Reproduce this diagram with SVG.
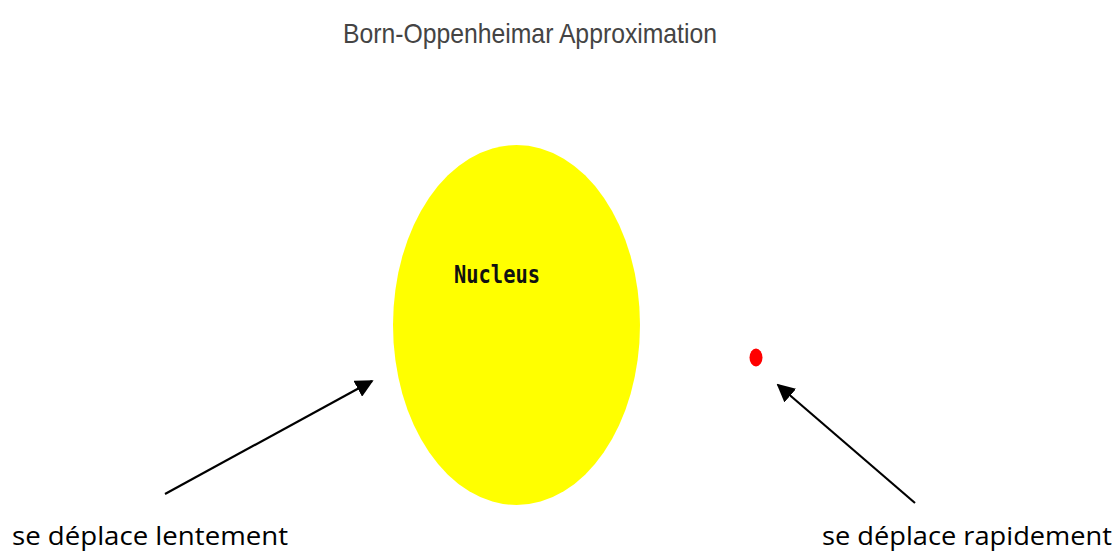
<svg xmlns="http://www.w3.org/2000/svg" width="1120" height="553" viewBox="0 0 1120 553">
<style>
.lbl{font-family:"Open Sans","Liberation Sans",sans-serif;font-size:26px;fill:#000}
.conn{stroke:#000;stroke-width:2.2;fill:none}
</style>
<defs>
<marker id="ah2" viewBox="0 0 10 10" refX="9" refY="5" markerWidth="18" markerHeight="18" markerUnits="userSpaceOnUse" orient="auto">
<path d="M0,0 L10,5 L0,10 z" fill="#000"/>
</marker>
</defs>
<rect width="1120" height="553" fill="#fff"/>
<g id="title"><text x="530" y="43" text-anchor="middle" font-family="'Liberation Sans',Arial,sans-serif" font-size="28" fill="#444" textLength="374" lengthAdjust="spacingAndGlyphs">Born-Oppenheimar Approximation</text></g>
<g id="nucleus">
<ellipse cx="516.5" cy="325" rx="123.5" ry="180" fill="#ffff00"/>
<text x="454" y="283" font-family="'DejaVu Sans Mono',monospace" font-weight="bold" font-size="24" fill="#111" textLength="86" lengthAdjust="spacingAndGlyphs">Nucleus</text>
</g>
<g id="electron"><ellipse cx="756" cy="357.5" rx="6.5" ry="9" fill="#ff0000"/></g>
<g id="connectors">
<line class="conn" x1="165" y1="494" x2="372" y2="381" marker-end="url(#ah2)"/>
<line class="conn" x1="915" y1="503" x2="778" y2="385" marker-end="url(#ah2)"/>
</g>
<g id="label-slow"><text class="lbl" x="12" y="545" textLength="276" lengthAdjust="spacingAndGlyphs">se déplace lentement</text></g>
<g id="label-fast"><text class="lbl" x="822" y="545" textLength="290" lengthAdjust="spacingAndGlyphs">se déplace rapidement</text></g>
</svg>
